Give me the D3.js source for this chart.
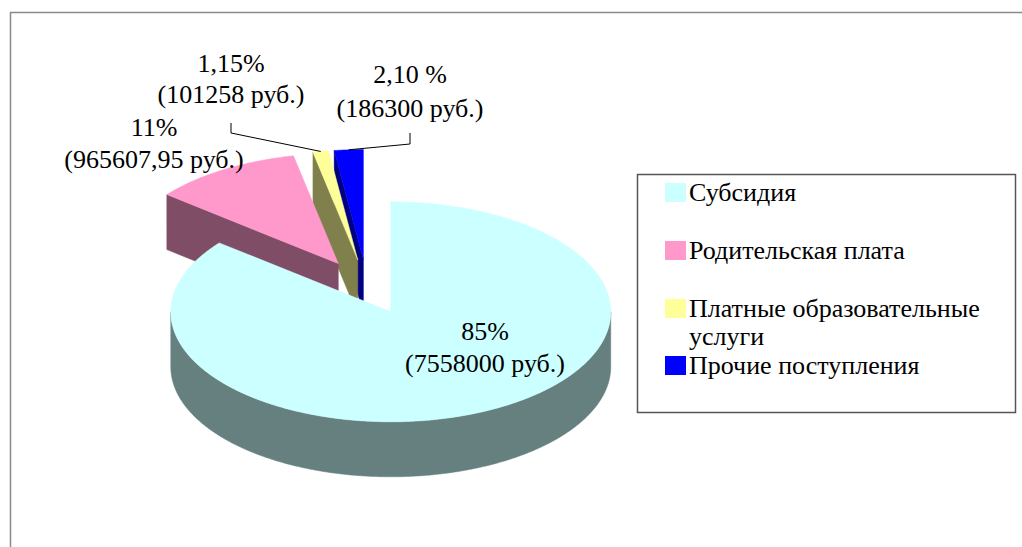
<!DOCTYPE html>
<html>
<head>
<meta charset="utf-8">
<script src="https://cdn.jsdelivr.net/npm/d3@7"></script>
<style>
  html, body { margin: 0; padding: 0; background: #fff; }
  svg { display: block; }
  svg text { font-family: 'Liberation Serif', Tinos, FreeSerif !important; }
</style>
</head>
<body>
<svg width="1022" height="547"></svg>
<script>
// data
var categories = ["Субсидия", "Родительская плата", "Платные образовательные услуги", "Прочие поступления"];
var values = [7558000, 965607.95, 101258, 186300];
var pctLabels = ["85%", "11%", "1,15%", "2,10 %"];
var sumLabels = ["(7558000 руб.)", "(965607,95 руб.)", "(101258 руб.)", "(186300 руб.)"];
var colors = ["#CCFFFF", "#FF99CC", "#FFFF99", "#0000FF"];
var legendLines = [["Субсидия"], ["Родительская плата"], ["Платные образовательные", "услуги"], ["Прочие поступления"]];

// layout
var cx = 367, cy = 287, rx = 220, ry = 110, depth = 55, explode = 0.25;
// label anchors: [x, baseline of first line, baseline of second line]
var labelPos = [[485, 340, 372], [154, 136, 168], [231, 72, 103], [410, 83, 117]];
// leader lines start (label side): only for the small slices
var leaderStart = [null, null, [[231, 123], [231, 133]], [[410, 133], [410, 144]]];

var svg = d3.select("svg"),
    width = +svg.attr("width"),
    height = +svg.attr("height");

// chart area frame
svg.append("rect")
    .attr("x", 10.5).attr("y", 12.5)
    .attr("width", width + 20).attr("height", height + 20)
    .attr("fill", "none")
    .attr("stroke", "#8a8a8a")
    .attr("stroke-width", 1.5);

var color = d3.scaleOrdinal().domain(categories).range(colors);

var pie = d3.pie().sort(null).value(function(d) { return d.value; });
var arcs = pie(categories.map(function(c, i) { return { name: c, value: values[i], i: i }; }));

arcs.forEach(function(d) {
  var mid = (d.startAngle + d.endAngle) / 2;
  d.mid = mid;
  d.ox = explode * rx * Math.sin(mid);
  d.oy = -explode * ry * Math.cos(mid);
});

function pt(d, a, r, z) {
  return [cx + d.ox + rx * r * Math.sin(a), cy + d.oy - ry * r * Math.cos(a) + z];
}

function arcPts(d, a0, a1, z) {
  var n = Math.max(2, Math.ceil((a1 - a0) / 0.01));
  return d3.range(n + 1).map(function(k) { return pt(d, a0 + (a1 - a0) * k / n, 1, z); });
}

var line = d3.line();

function shade(c) {
  var k = d3.rgb(c);
  return d3.rgb(k.r * 0.5, k.g * 0.5, k.b * 0.5).formatHex();
}

// painter's order: back slices first
var order = arcs.slice().sort(function(a, b) { return -Math.cos(a.mid) - -Math.cos(b.mid); });

var pieG = svg.append("g").attr("class", "pie");

order.forEach(function(d) {
  var g = pieG.append("g");
  var top = color(d.data.name), side = shade(top);
  var a0 = d.startAngle, a1 = d.endAngle;

  // radial face at start angle
  if (Math.sin(a0) < -1e-6) {
    g.append("path")
      .attr("d", line([pt(d, a0, 0, 0), pt(d, a0, 1, 0), pt(d, a0, 1, depth), pt(d, a0, 0, depth)]) + "Z")
      .attr("fill", side).attr("stroke", side).attr("stroke-width", 0.5);
  }
  // radial face at end angle
  if (Math.sin(a1) > 1e-6) {
    g.append("path")
      .attr("d", line([pt(d, a1, 0, 0), pt(d, a1, 1, 0), pt(d, a1, 1, depth), pt(d, a1, 0, depth)]) + "Z")
      .attr("fill", side).attr("stroke", side).attr("stroke-width", 0.5);
  }
  // outer rim, front half only
  var b0 = Math.max(a0, Math.PI / 2), b1 = Math.min(a1, Math.PI * 1.5);
  if (b1 > b0) {
    var upper = arcPts(d, b0, b1, 0), lower = arcPts(d, b0, b1, depth).reverse();
    g.append("path")
      .attr("d", line(upper.concat(lower)) + "Z")
      .attr("fill", side).attr("stroke", side).attr("stroke-width", 0.5);
  }
  // top face
  g.append("path")
    .attr("d", line([pt(d, a0, 0, 0)].concat(arcPts(d, a0, a1, 0))) + "Z")
    .attr("fill", top).attr("stroke", top).attr("stroke-width", 0.5);
});

// leader lines
arcs.forEach(function(d, i) {
  if (!leaderStart[i]) return;
  var end = pt(d, d.mid, 1, 0);
  svg.append("path")
    .attr("d", line(leaderStart[i].concat([end])))
    .attr("fill", "none")
    .attr("stroke", "#000")
    .attr("stroke-width", 1);
});

// legend box and swatches
svg.append("rect")
    .attr("x", 637.5).attr("y", 174.5)
    .attr("width", 378).attr("height", 238)
    .attr("fill", "#fff")
    .attr("stroke", "#555")
    .attr("stroke-width", 1.5);

var rowY = [201, 259, 317, 374];

svg.selectAll("rect.swatch")
  .data(categories)
  .enter().append("rect")
    .attr("class", "swatch")
    .attr("x", 665)
    .attr("y", function(d, i) { return rowY[i] - 18; })
    .attr("width", 21).attr("height", 19)
    .attr("fill", function(d) { return color(d); });

// all text, appended straight to the svg
var texts = [];
arcs.forEach(function(d, i) {
  texts.push({ s: pctLabels[i], x: labelPos[i][0], y: labelPos[i][1], anchor: "middle" });
  texts.push({ s: sumLabels[i], x: labelPos[i][0], y: labelPos[i][2], anchor: "middle" });
});
legendLines.forEach(function(lines, i) {
  lines.forEach(function(s, j) { texts.push({ s: s, x: 689, y: rowY[i] + j * 28, anchor: "start" }); });
});

svg.selectAll("text")
  .data(texts)
  .enter().append("text")
    .attr("x", function(d) { return d.x; })
    .attr("y", function(d) { return d.y; })
    .attr("text-anchor", function(d) { return d.anchor; })
    .attr("font-size", 26)
    .style("font-family", function(d) { return "'Liberation Serif'"; })
    .text(function(d) { return d.s; });
</script>
</body>
</html>
